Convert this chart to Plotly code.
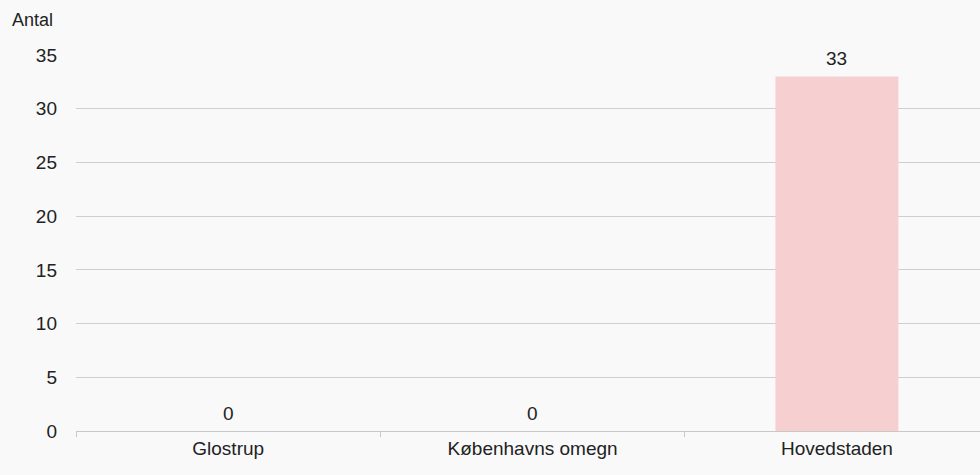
import plotly.graph_objects as go

categories = ["Glostrup", "Københavns omegn", "Hovedstaden"]
values = [0, 0, 33]
y_ticks = [0, 5, 10, 15, 20, 25, 30, 35]

font = dict(family="Liberation Sans, Arial, sans-serif", size=19, color="#222222")

fig = go.Figure(go.Bar(
    x=categories, y=values,
    marker=dict(color="#f6d0d0", line=dict(width=0)),
    width=0.404,
    hoverinfo="x+y",
))

for c, v in zip(categories, values):
    fig.add_annotation(x=c, y=v, text=str(v), showarrow=False,
                       yanchor="bottom", yshift=5, font=font)

fig.update_layout(
    width=980, height=475,
    margin=dict(l=76, r=0, t=55, b=44),
    paper_bgcolor="#f9f9f9", plot_bgcolor="#f9f9f9",
    font=font,
    showlegend=False,
    xaxis=dict(
        range=[-0.5, 2.47],
        showline=True, linecolor="#c8c8c8", linewidth=1,
        ticks="outside", tickson="boundaries", ticklen=5, tickcolor="#c8c8c8",
        showgrid=False,
    ),
    yaxis=dict(
        range=[0, 35], tickvals=y_ticks,
        showgrid=True, gridcolor="#cfcfcf", gridwidth=1,
        zeroline=False, ticks="", ticklabelstandoff=18,
    ),
)
fig.add_annotation(text="Antal", xref="paper", yref="paper", x=0, y=1,
                   xshift=-66, yshift=35, showarrow=False,
                   xanchor="left", yanchor="middle",
                   font=dict(family=font["family"], size=18, color="#222222"))

fig.write_html("out.html", config={"displayModeBar": False},
               post_script="document.body.style.margin='0';document.body.style.background='#f9f9f9';")
